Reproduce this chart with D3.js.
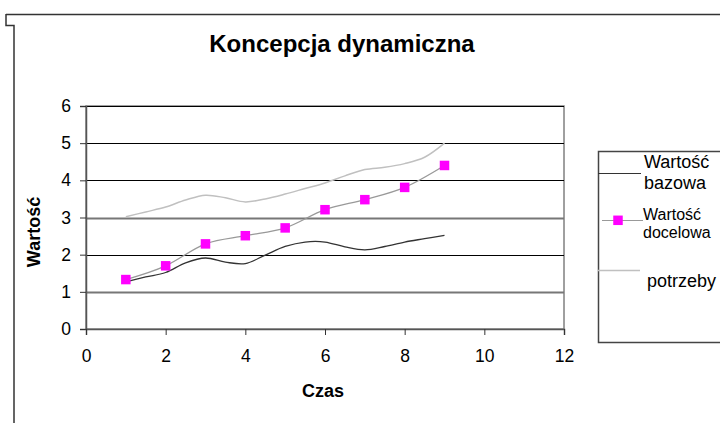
<!DOCTYPE html>
<html>
<head>
<meta charset="utf-8">
<script src="https://cdn.jsdelivr.net/npm/d3@7"></script>
<style>
  body { margin: 0; background: #fff; }
  text { font-family: "Liberation Sans", Arial, sans-serif; fill: #000; }
</style>
</head>
<body>
<div id="chart"></div>
<script>
// Data
const xTicks = [0, 2, 4, 6, 8, 10, 12];
const yTicks = [0, 1, 2, 3, 4, 5, 6];

// smoothed lines, sampled every half step
const czasFine = [1, 1.5, 2, 2.5, 3, 3.5, 4, 4.5, 5, 5.5, 6, 6.5, 7, 7.5, 8, 8.5, 9];
const bazowa = [1.27, 1.40, 1.52, 1.78, 1.91, 1.80, 1.76, 1.99, 2.22, 2.34, 2.34, 2.21, 2.13, 2.22, 2.34, 2.43, 2.52];
const potrzeby = [3.02, 3.15, 3.28, 3.47, 3.60, 3.53, 3.42, 3.50, 3.63, 3.78, 3.93, 4.12, 4.29, 4.35, 4.45, 4.62, 5.0];

// target values with markers
const czas = [1, 2, 3, 4, 5, 6, 7, 8, 9];
const docelowa = [1.33, 1.70, 2.29, 2.51, 2.72, 3.21, 3.48, 3.81, 4.40];

const width = 720;
const height = 423;

const svg = d3.select('#chart')
    .append('svg')
    .attr('width', width)
    .attr('height', height);

svg.append('rect')
    .attr('width', width)
    .attr('height', height)
    .attr('fill', '#fff');

// outer chart frame (clipped at the corner)
svg.append('path')
    .attr('d', 'M6,14.5H720M6,14V25.5H14V423')
    .attr('fill', 'none')
    .attr('stroke', '#333')
    .attr('stroke-width', 1.5);

// Title
svg.append('text')
    .attr('x', 342)
    .attr('y', 52)
    .attr('text-anchor', 'middle')
    .style('font-size', '24px')
    .style('font-weight', 'bold')
    .text('Koncepcja dynamiczna');

// Scales
const x = d3.scaleLinear().domain([0, 12]).range([86, 564]);
const y = d3.scaleLinear().domain([0, 6]).range([329, 106]);

// plot area border
svg.append('rect')
    .attr('x', x(0))
    .attr('y', y(6))
    .attr('width', x(12) - x(0))
    .attr('height', y(0) - y(6))
    .attr('fill', 'none')
    .attr('stroke', '#808080')
    .attr('stroke-width', 1.5);

// gridlines
svg.append('g')
    .selectAll('line')
    .data(yTicks.filter(d => d > 0))
    .enter()
    .append('line')
    .attr('x1', x(0))
    .attr('x2', x(12))
    .attr('y1', d => Math.round(y(d)) + 0.5)
    .attr('y2', d => Math.round(y(d)) + 0.5)
    .attr('stroke', d => (d % 2 === 1 && d < 5) ? '#777' : '#000')
    .attr('stroke-width', d => (d % 2 === 1 && d < 5) ? 1.8 : 1);

// Axes
const yAxis = svg.append('g')
    .attr('transform', `translate(${x(0)},0)`)
    .call(d3.axisLeft(y).tickValues(yTicks).tickSize(6).tickPadding(9).tickFormat(d3.format('d')));

const xAxis = svg.append('g')
    .attr('transform', `translate(0,${y(0)})`)
    .call(d3.axisBottom(x).tickValues(xTicks).tickSize(6).tickPadding(15).tickFormat(d3.format('d')));

[yAxis, xAxis].forEach(g => {
    g.select('.domain').attr('stroke', '#555').attr('stroke-width', 1.5);
    g.selectAll('.tick line').attr('stroke', '#333');
    g.selectAll('.tick text')
        .style('font-size', '17.5px')
        .style('font-family', '"Liberation Sans", Arial, sans-serif')
        .attr('fill', '#000');
});

// Axis titles
svg.append('text')
    .attr('x', 323)
    .attr('y', 397)
    .attr('text-anchor', 'middle')
    .style('font-size', '18px')
    .style('font-weight', 'bold')
    .text('Czas');

svg.append('text')
    .attr('transform', 'translate(40,232) rotate(-90)')
    .attr('text-anchor', 'middle')
    .style('font-size', '18px')
    .style('font-weight', 'bold')
    .text('Wartość');

// Lines
const smooth = d3.line()
    .x((d, i) => x(czasFine[i]))
    .y(d => y(d))
    .curve(d3.curveCatmullRom);

svg.append('path')
    .datum(potrzeby)
    .attr('d', smooth)
    .attr('fill', 'none')
    .attr('stroke', '#c0c0c0')
    .attr('stroke-width', 1.5);

svg.append('path')
    .datum(bazowa)
    .attr('d', smooth)
    .attr('fill', 'none')
    .attr('stroke', '#333')
    .attr('stroke-width', 1.3);

const targetLine = d3.line()
    .x((d, i) => x(czas[i]))
    .y(d => y(d))
    .curve(d3.curveMonotoneX);

svg.append('path')
    .datum(docelowa)
    .attr('d', targetLine)
    .attr('fill', 'none')
    .attr('stroke', '#999')
    .attr('stroke-width', 1.3);

const mk = 9.5;
svg.append('g')
    .selectAll('rect')
    .data(docelowa)
    .enter()
    .append('rect')
    .attr('x', (d, i) => x(czas[i]) - mk / 2)
    .attr('y', d => y(d) - mk / 2)
    .attr('width', mk)
    .attr('height', mk)
    .attr('fill', '#ff00ff');

// Legend
svg.append('path')
    .attr('d', 'M720,151.5H598.5V342.5H720')
    .attr('fill', 'none')
    .attr('stroke', '#444')
    .attr('stroke-width', 1.5);

const leg = svg.append('g');

// Wartość bazowa
leg.append('line')
    .attr('x1', 598).attr('x2', 641)
    .attr('y1', 173.5).attr('y2', 173.5)
    .attr('stroke', '#333').attr('stroke-width', 1.2);
leg.append('text').attr('x', 644).attr('y', 167.5).style('font-size', '18px').text('Wartość');
leg.append('text').attr('x', 644).attr('y', 188.5).style('font-size', '18px').text('bazowa');

// Wartość docelowa
leg.append('line')
    .attr('x1', 602).attr('x2', 643)
    .attr('y1', 220.5).attr('y2', 220.5)
    .attr('stroke', '#999').attr('stroke-width', 1.2);
leg.append('rect')
    .attr('x', 618 - mk / 2).attr('y', 220.3 - mk / 2)
    .attr('width', mk).attr('height', mk)
    .attr('fill', '#ff00ff');
leg.append('text').attr('x', 643).attr('y', 220).style('font-size', '16px').text('Wartość');
leg.append('text').attr('x', 643).attr('y', 237.5).style('font-size', '16px').text('docelowa');

// potrzeby
leg.append('line')
    .attr('x1', 598).attr('x2', 640)
    .attr('y1', 270.5).attr('y2', 270.5)
    .attr('stroke', '#c0c0c0').attr('stroke-width', 1.5);
leg.append('text').attr('x', 647).attr('y', 287).style('font-size', '18px').text('potrzeby');
</script>
</body>
</html>
